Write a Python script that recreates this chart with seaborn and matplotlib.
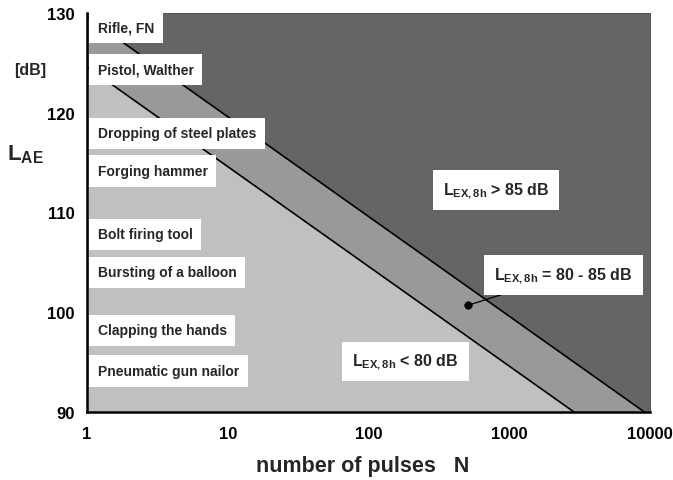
import matplotlib
matplotlib.use("Agg")
import matplotlib.pyplot as plt
import matplotlib.transforms as mtransforms
import numpy as np
import pandas as pd
import seaborn as sns

# ---- data ----
N_bounds = [1, 10000]
L_85 = [129.6, 89.6]      # boundary L_EX,8h = 85 dB
L_80 = [124.6, 84.6]      # boundary L_EX,8h = 80 dB
sources = ["Rifle, FN", "Pistol, Walther", "Dropping of steel plates",
           "Forging hammer", "Bolt firing tool", "Bursting of a balloon",
           "Clapping the hands", "Pneumatic gun nailor"]
source_L = [128.55, 124.35, 117.95, 114.15, 107.8, 104.0, 98.2, 94.1]
marker_N = [510]
marker_L = [100.7]
x_ticks = [1, 10, 100, 1000, 10000]
x_ticklabels = ["1", "10", "100", "1000", "10000"]
y_ticks = [90, 100, 110, 120, 130]

sns.set_style("white")
plt.rcParams['font.family'] = ['Liberation Sans', 'DejaVu Sans']
plt.rcParams['mathtext.fontset'] = 'custom'
plt.rcParams['mathtext.rm'] = 'Liberation Sans'
plt.rcParams['mathtext.bf'] = 'Liberation Sans:bold'
plt.rcParams['mathtext.it'] = 'Liberation Sans:italic'

fig = plt.figure(figsize=(6.73, 4.81), dpi=100)
ax = fig.add_axes([87/673, 1-413/481, (650-87)/673, (413-14)/481])
ax.set_xscale("log")
ax.set_xlim(1, 10000)
ax.set_ylim(90, 130)

c_dark, c_mid, c_light = "#656565", "#999999", "#c0c0c0"
ax.fill_between(N_bounds, L_85, 130, color=c_dark, lw=0, zorder=0)
ax.fill_between(N_bounds, L_80, L_85, color=c_mid, lw=0, zorder=0)
ax.fill_between(N_bounds, 80, L_80, color=c_light, lw=0, zorder=0)

df = pd.DataFrame({"N": N_bounds * 2, "L": L_85 + L_80,
                   "b": ["85"] * 2 + ["80"] * 2})
sns.lineplot(data=df, x="N", y="L", units="b", estimator=None, color="black",
             lw=1.2, ax=ax, zorder=2, legend=False)
sns.scatterplot(x=marker_N, y=marker_L, color="black", s=30, ax=ax, zorder=5,
                edgecolor="black")

trans = mtransforms.blended_transform_factory(ax.transAxes, ax.transData)
for name, L in zip(sources, source_L):
    ax.text(0.019, L, name, transform=trans, fontsize=10, fontweight="bold",
            ha="left", va="center", zorder=6,
            bbox=dict(boxstyle="square,pad=0.62", fc="white", ec="none"))

lab = r"$\mathbf{L}_{\mathbf{EX,8h}}$"
bb = dict(boxstyle="square,pad=0.62", fc="white", ec="none")
ax.text(10**2.906, 112.25, lab + " > 85 dB", fontsize=11.5, fontweight="bold",
        ha="center", va="center", bbox=bb, zorder=6)
ax.annotate(lab + " = 80 - 85 dB", xy=(marker_N[0], marker_L[0]),
            xytext=(10**3.386, 103.75), fontsize=11.5, fontweight="bold",
            ha="center", va="center", bbox=bb, zorder=6,
            arrowprops=dict(arrowstyle="-", color="black", lw=0.9,
                            shrinkA=0, shrinkB=2))
ax.text(10**2.263, 95.05, lab + " < 80 dB", fontsize=11.5, fontweight="bold",
        ha="center", va="center", bbox=bb, zorder=6)

ax.set_xticks(x_ticks)
ax.set_xticklabels(x_ticklabels)
ax.minorticks_off()
ax.set_yticks(y_ticks)
ax.tick_params(axis="both", direction="in", length=4, width=1.2,
               labelsize=12, colors="black")
for t in ax.get_xticklabels() + ax.get_yticklabels():
    t.set_fontweight("bold")
ax.tick_params(axis="x", pad=10)
ax.tick_params(axis="y", pad=9)

for s in ["left", "bottom"]:
    ax.spines[s].set_linewidth(1.8)
    ax.spines[s].set_color("black")
    ax.spines[s].set_zorder(7)
for s in ["top", "right"]:
    ax.spines[s].set_linewidth(0.6)
    ax.spines[s].set_color("#444444")

ax.set_xlabel("number of pulses   N", fontsize=15.5, fontweight="bold",
              va="center")
ax.xaxis.set_label_coords(0.49, -0.133)
ax.set_ylabel("")
fig.text(25/673, 1-155/481, r"$\mathbf{L}_{\mathbf{AE}}$", fontsize=16,
         ha="center", va="center")
fig.text(30/673, 1-70/481, "[dB]", fontsize=11.5, fontweight="bold",
         ha="center", va="center")

fig.savefig("out.png", dpi=100)
